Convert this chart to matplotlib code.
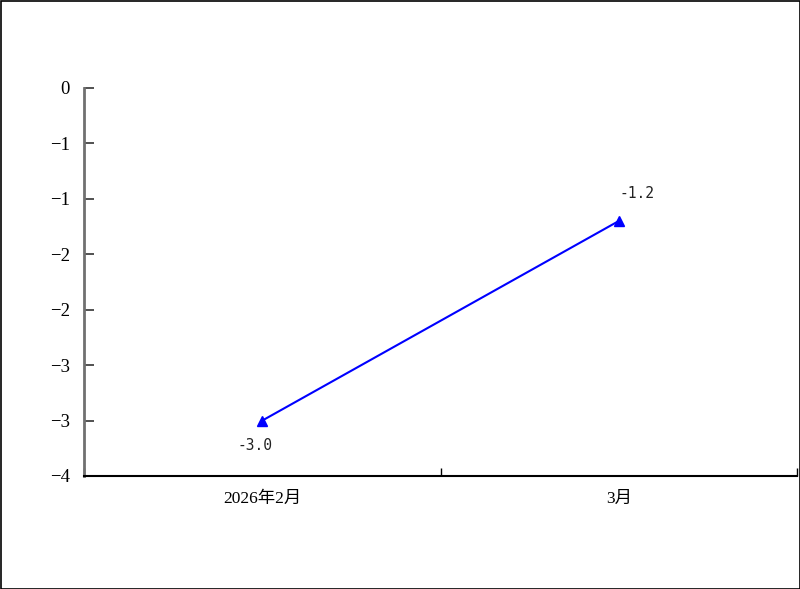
import matplotlib
matplotlib.use("Agg")
import matplotlib.pyplot as plt
from matplotlib.patches import Rectangle

categories = ["2026年2月", "3月"]
values = [-3.0, -1.2]
value_labels = ["-3.0", "-1.2"]
ytick_values = [0, -0.5, -1.0, -1.5, -2.0, -2.5, -3.0, -3.5]
ytick_labels = ["0", "−1", "−1", "−2", "−2", "−3", "−3", "−4"]

fam = ["Liberation Serif", "Noto Sans CJK SC"]
plt.rcParams["font.family"] = fam

fig = plt.figure(figsize=(8.0, 5.89), dpi=100)
ax = fig.add_axes([84/800, 1-476/589, (797-84)/800, (476-88)/589])

x = list(range(len(categories)))
ax.plot(x, values, color="#0000FF", lw=1.5, marker="^", markersize=7,
        markerfacecolor="#0000FF", markeredgecolor="#0000FF", zorder=3)

offsets = [(-5, -18), (13, 20)]
for xi, v, lab, off in zip(x, values, value_labels, offsets):
    ax.annotate(lab, (xi, v), xytext=off, textcoords="offset points",
                ha="center", va="center", fontsize=10.5,
                family=["DejaVu Sans Mono", "Noto Sans CJK SC"], color="#222222")

ax.set_xlim(-0.5, 1.5)
ax.set_ylim(-3.5, 0)
ax.set_xticks(x)
ax.set_xticklabels(categories, fontsize=12.5)
ax.set_xticks([-0.5, 0.5, 1.5], minor=True)
ax.tick_params(axis="x", which="major", length=0, pad=11)
ax.tick_params(axis="x", which="minor", direction="in", length=6, width=1, color="black")
ax.set_yticks(ytick_values)
ax.set_yticklabels(ytick_labels, fontsize=13.5)
ax.tick_params(axis="y", direction="in", length=7, width=1.2, color="#333333", pad=10)

for s in ["top", "right"]:
    ax.spines[s].set_visible(False)
ax.spines["left"].set_color("#707070")
ax.spines["left"].set_linewidth(2)
ax.spines["bottom"].set_color("black")
ax.spines["bottom"].set_linewidth(1.5)

fig.patches.append(Rectangle((0.5/800, 0.5/589), 1-1/800, 1-1/589, transform=fig.transFigure,
                             fill=False, edgecolor="black", lw=1.2))

fig.savefig("out.png", dpi=100)
